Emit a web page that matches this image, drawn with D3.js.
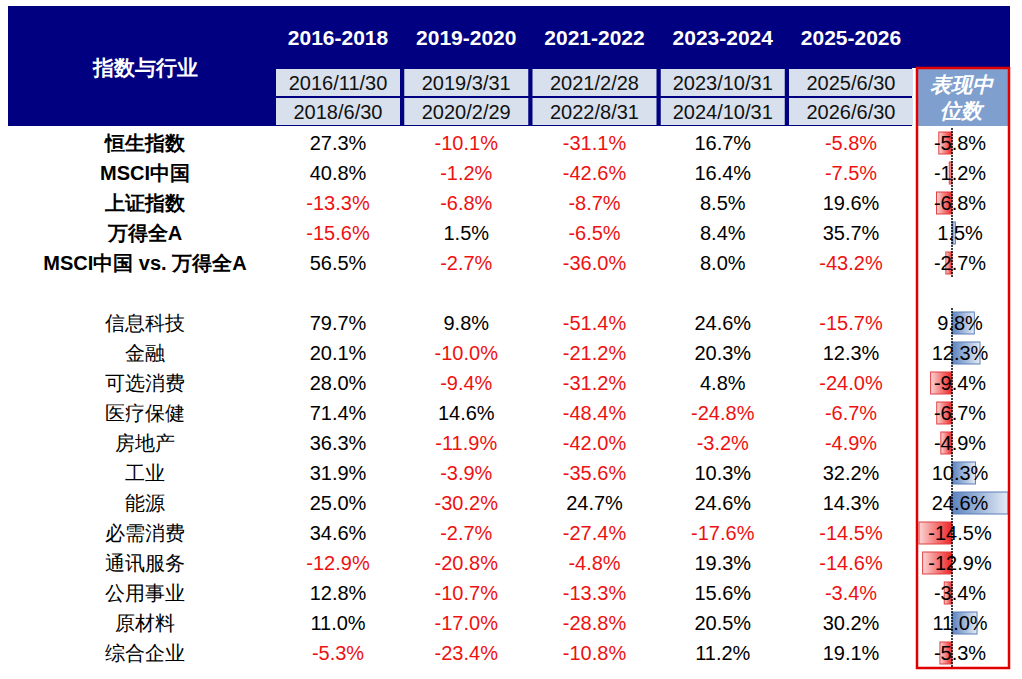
<!DOCTYPE html><html><head><meta charset="utf-8"><script src="https://cdn.jsdelivr.net/npm/d3@7"></script>
<style>body{margin:0;background:#fff}</style></head><body><svg id="c" width="1022" height="679"></svg>
<script>
const periods=["2016-2018","2019-2020","2021-2022","2023-2024","2025-2026"];
const starts=["2016/11/30","2019/3/31","2021/2/28","2023/10/31","2025/6/30"];
const ends=["2018/6/30","2020/2/29","2022/8/31","2024/10/31","2026/6/30"];
const labels=["恒生指数","MSCI中国","上证指数","万得全A","MSCI中国 vs. 万得全A",null,"信息科技","金融","可选消费","医疗保健","房地产","工业","能源","必需消费","通讯服务","公用事业","原材料","综合企业"];
const values=[[27.3,-10.1,-31.1,16.7,-5.8],[40.8,-1.2,-42.6,16.4,-7.5],[-13.3,-6.8,-8.7,8.5,19.6],[-15.6,1.5,-6.5,8.4,35.7],[56.5,-2.7,-36.0,8.0,-43.2],null,
[79.7,9.8,-51.4,24.6,-15.7],[20.1,-10.0,-21.2,20.3,12.3],[28.0,-9.4,-31.2,4.8,-24.0],[71.4,14.6,-48.4,-24.8,-6.7],[36.3,-11.9,-42.0,-3.2,-4.9],[31.9,-3.9,-35.6,10.3,32.2],[25.0,-30.2,24.7,24.6,14.3],[34.6,-2.7,-27.4,-17.6,-14.5],[-12.9,-20.8,-4.8,19.3,-14.6],[12.8,-10.7,-13.3,15.6,-3.4],[11.0,-17.0,-28.8,20.5,30.2],[-5.3,-23.4,-10.8,11.2,19.1]];
const medians=[-5.8,-1.2,-6.8,1.5,-2.7,null,9.8,12.3,-9.4,-6.7,-4.9,10.3,24.6,-14.5,-12.9,-3.4,11.0,-5.3];
const svg=d3.select("#c");const F="Liberation Sans, Arial, sans-serif";
const defs=svg.append("defs");
const gp=defs.append("linearGradient").attr("id","gp");gp.append("stop").attr("offset","0").attr("stop-color","#5b82c0");gp.append("stop").attr("offset","1").attr("stop-color","#e4ebf5");
const gn=defs.append("linearGradient").attr("id","gn");gn.append("stop").attr("offset","0").attr("stop-color","#fbd5d5");gn.append("stop").attr("offset","1").attr("stop-color","#ee2222");
const colX=d3.scalePoint().domain(d3.range(5)).range([338,851]);
const y=d3.scaleLinear().domain([0,17]).range([143,653]);
svg.append("rect").attr("x",8).attr("y",6).attr("width",904).attr("height",120).attr("fill","#000080");
svg.append("rect").attr("x",912).attr("y",6).attr("width",98).attr("height",62).attr("fill","#000080");
svg.append("text").attr("x",145).attr("y",75).attr("text-anchor","middle").attr("fill","#fff").attr("font-family",F).attr("font-weight","bold").attr("font-size",21).text("指数与行业");
periods.forEach((p,i)=>{const cx=colX(i);
 svg.append("text").attr("x",cx).attr("y",45).attr("text-anchor","middle").attr("fill","#fff").attr("font-family",F).attr("font-weight","bold").attr("font-size",21).text(p);
 [starts[i],ends[i]].forEach((t,k)=>{svg.append("rect").attr("x",cx-62).attr("y",69+k*29).attr("width",124).attr("height",27).attr("fill","#d7e0ec");
  svg.append("text").attr("x",cx).attr("y",90+k*29).attr("text-anchor","middle").attr("fill","#111").attr("font-family",F).attr("font-size",20).text(t);});
});
svg.append("rect").attr("x",918).attr("y",69).attr("width",90).attr("height",57).attr("fill","#7f9fcf");
["表现中","位数"].forEach((t,k)=>svg.append("text").attr("x",961).attr("y",92+k*26).attr("text-anchor","middle").attr("fill","#fff").attr("font-family",F).attr("font-weight","bold").attr("font-style","italic").attr("font-size",21).text(t));
const bx=d3.scaleLinear().domain([0,24.6]).range([952,1008]);
labels.forEach((l,r)=>{if(!l)return;const yy=y(r);
 svg.append("text").attr("x",145).attr("y",yy+7).attr("text-anchor","middle").attr("font-family",F).attr("font-weight",r<5?"bold":"normal").attr("font-size",20).attr("fill","#000").text(l);
 values[r].forEach((v,i)=>svg.append("text").attr("x",colX(i)).attr("y",yy+7).attr("text-anchor","middle").attr("font-family",F).attr("font-size",20).attr("fill",v<0?"#ee1111":"#000").text(v.toFixed(1)+"%"));
 const m=medians[r];const x0=bx(Math.min(0,m)),x1=bx(Math.max(0,m));
 svg.append("rect").attr("x",x0).attr("y",yy-11).attr("width",x1-x0).attr("height",22).attr("fill",m<0?"url(#gn)":"url(#gp)").attr("stroke",m<0?"#e04040":"#5b7fb8").attr("stroke-width",1);
 svg.append("line").attr("x1",bx(0)).attr("x2",bx(0)).attr("y1",yy-15).attr("y2",yy+15).attr("stroke","#000").attr("stroke-width",1.5).attr("stroke-dasharray","2,1");
 svg.append("text").attr("x",960).attr("y",yy+7).attr("text-anchor","middle").attr("font-family",F).attr("font-size",20).attr("fill","#000").text(m.toFixed(1)+"%");
});
svg.append("rect").attr("x",917).attr("y",68).attr("width",92).attr("height",600).attr("fill","none").attr("stroke","#e00000").attr("stroke-width",2.5);
</script></body></html>
